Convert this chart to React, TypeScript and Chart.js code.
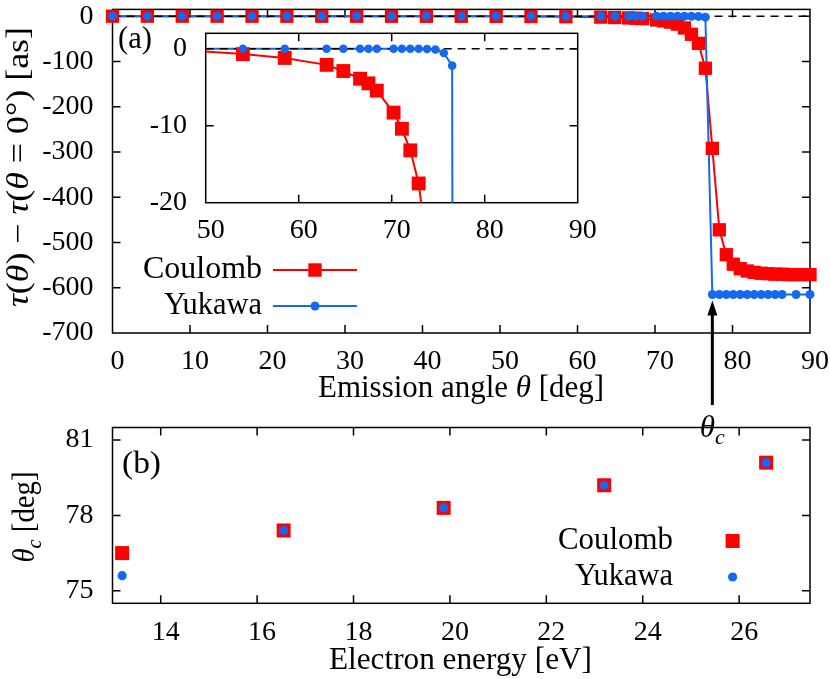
import React, { useEffect, useRef } from 'react';
import { Chart, registerables } from 'chart.js';

Chart.register(...registerables);

const FONT = '"Liberation Serif", "Times New Roman", serif';
const RED = '#ff0000';
const BLUE = '#1469f0';

// ---------- Panel (a): delay vs emission angle ----------
const coulombAngles = [
  0, 4.5, 9, 13.5, 18, 22.5, 27, 31.5, 36, 40.5, 45, 49.5, 54, 58.5, 63,
  64.8, 66.6, 67.5, 68.4, 70.2, 71.1, 72, 72.9, 73.8, 74.7, 75.6, 76.5,
  77.4, 78.3, 79.2, 80.1, 81, 81.9, 82.8, 83.7, 84.6, 85.5, 86.4, 87.3, 88.2, 89.1, 90,
];
const coulombDelay = [
  0, -0.01, -0.02, -0.04, -0.06, -0.08, -0.1, -0.13, -0.16, -0.2, -0.25, -0.32, -0.7, -1.2, -2.1,
  -2.9, -3.9, -4.5, -5.45, -8.3, -10.4, -13.2, -17.5, -26, -40, -60, -115,
  -292, -472, -527, -548, -558, -563, -566, -568, -569, -570, -570, -571, -571, -571, -571,
];
const yukawaAngles = [
  0, 4.5, 9, 13.5, 18, 22.5, 27, 31.5, 36, 40.5, 45, 49.5, 54, 58.5, 63,
  64.8, 66.6, 67.5, 68.4, 70.2, 71.1, 72, 72.9, 73.8, 74.7, 75.6, 76.5,
  77.4, 78.3, 79.2, 80.1, 81, 81.9, 82.8, 83.7, 84.6, 85.5, 86.4, 88.2, 90,
];
const yukawaDelay = [
  0, 0, 0, 0, 0, 0, 0, 0, 0, 0, 0, 0, 0, 0, 0,
  0, 0, 0, 0, 0, 0, 0, 0, -0.03, -0.1, -0.56, -2.2,
  -615, -615, -615, -615, -615, -615, -615, -615, -615, -615, -615, -615, -615,
];
const angleTicks = [0, 10, 20, 30, 40, 50, 60, 70, 80, 90];
const delayTicks = [0, -100, -200, -300, -400, -500, -600, -700];
const insetAngleTicks = [50, 60, 70, 80, 90];
const insetDelayTicks = [0, -10, -20];
const markedThetaC = 77.4;

// ---------- Panel (b): critical angle vs electron energy ----------
const electronEnergy = [13.2, 16.55, 19.87, 23.2, 26.56];
const coulombThetaC = [76.5, 77.4, 78.3, 79.2, 80.1];
const yukawaThetaC = [75.6, 77.4, 78.3, 79.2, 80.1];
const energyTicks = [14, 16, 18, 20, 22, 24, 26];
const thetaCTicks = [75, 78, 81];

type Seg = { t: string; it?: boolean; sub?: boolean };

function drawRich(
  ctx: CanvasRenderingContext2D,
  segs: Seg[],
  x: number,
  y: number,
  size: number,
  align: 'left' | 'center' | 'right',
  rot = 0,
  target?: number
) {
  ctx.save();
  ctx.translate(x, y);
  if (rot) ctx.rotate(rot);
  const f = (s: Seg) => `${s.it ? 'italic ' : ''}${s.sub ? Math.round(size * 0.7) : size}px ${FONT}`;
  const ws = segs.map((s) => {
    ctx.font = f(s);
    return ctx.measureText(s.t).width;
  });
  const total = ws.reduce((a, b) => a + b, 0);
  const sx = target ? target / total : 1;
  ctx.scale(sx, 1);
  let cx = align === 'left' ? 0 : align === 'center' ? -total / 2 : -total;
  ctx.textBaseline = 'middle';
  ctx.textAlign = 'left';
  ctx.fillStyle = '#000';
  segs.forEach((s, i) => {
    ctx.font = f(s);
    ctx.fillText(s.t, cx, s.sub ? size * 0.3 : 0);
    cx += ws[i];
  });
  ctx.restore();
}

function axis(min: number, max: number, ticks: number[], pad: number, offset: number, fit: (s: any) => void) {
  return {
    type: 'linear' as const,
    min,
    max,
    grid: { display: false, drawTicks: false },
    border: { display: false },
    ticks: {
      color: '#000',
      font: { family: FONT, size: 28 },
      padding: pad,
      labelOffset: offset,
      maxRotation: 0,
      minRotation: 0,
      autoSkip: false,
      callback: (v: any) => String(v),
    },
    afterBuildTicks: (s: any) => {
      s.ticks = ticks.map((value) => ({ value }));
    },
    afterFit: (s: any) => {
      fit(s);
      s.paddingLeft = 0;
      s.paddingRight = 0;
      s.paddingTop = 0;
      s.paddingBottom = 0;
    },
  };
}

const framePlugin = {
  id: 'frame',
  beforeDatasetsDraw(chart: any) {
    const { ctx, chartArea: a, scales } = chart;
    const L = 8;
    ctx.save();
    ctx.strokeStyle = '#000';
    ctx.lineWidth = 1.5;
    ctx.beginPath();
    for (const t of scales.x.ticks) {
      const px = scales.x.getPixelForValue(t.value);
      if (px <= a.left + 1 || px >= a.right - 1) continue;
      ctx.moveTo(px, a.bottom);
      ctx.lineTo(px, a.bottom - L);
      ctx.moveTo(px, a.top);
      ctx.lineTo(px, a.top + L);
    }
    for (const t of scales.y.ticks) {
      const py = scales.y.getPixelForValue(t.value);
      if (py <= a.top + 1 || py >= a.bottom - 1) continue;
      ctx.moveTo(a.left, py);
      ctx.lineTo(a.left + L, py);
      ctx.moveTo(a.right, py);
      ctx.lineTo(a.right - L, py);
    }
    ctx.stroke();
    ctx.strokeRect(a.left, a.top, a.right - a.left, a.bottom - a.top);
    ctx.restore();
  },
};

function drawSquare(ctx: CanvasRenderingContext2D, x: number, y: number, side: number) {
  ctx.fillStyle = RED;
  ctx.fillRect(x - side / 2, y - side / 2, side, side);
}
function drawDot(ctx: CanvasRenderingContext2D, x: number, y: number, r: number) {
  ctx.fillStyle = BLUE;
  ctx.beginPath();
  ctx.arc(x, y, r, 0, Math.PI * 2);
  ctx.fill();
}

const mainAnnotations = {
  id: 'mainAnnotations',
  afterDraw(chart: any) {
    const { ctx, scales } = chart;
    ctx.save();
    drawRich(ctx, [{ t: '(a)' }], 118, 40, 31, 'left', 0, 34);
    // legend
    const rows = [270, 306];
    drawRich(ctx, [{ t: 'Coulomb' }], 262, rows[0], 31, 'right', 0, 119);
    drawRich(ctx, [{ t: 'Yukawa' }], 262, rows[1], 31, 'right', 0, 98);
    ctx.lineWidth = 2;
    ctx.strokeStyle = RED;
    ctx.beginPath();
    ctx.moveTo(273, rows[0]);
    ctx.lineTo(357, rows[0]);
    ctx.stroke();
    drawSquare(ctx, 315, rows[0], 13.4);
    ctx.strokeStyle = BLUE;
    ctx.beginPath();
    ctx.moveTo(273, rows[1]);
    ctx.lineTo(357, rows[1]);
    ctx.stroke();
    drawDot(ctx, 315, rows[1], 4.5);
    // arrow to theta_c
    const ax = scales.x.getPixelForValue(markedThetaC);
    const tipY = scales.y.getPixelForValue(-628);
    ctx.strokeStyle = '#000';
    ctx.fillStyle = '#000';
    ctx.lineWidth = 3;
    ctx.beginPath();
    ctx.moveTo(ax, 405);
    ctx.lineTo(ax, tipY + 12);
    ctx.stroke();
    ctx.beginPath();
    ctx.moveTo(ax, tipY);
    ctx.lineTo(ax - 5, tipY + 15);
    ctx.lineTo(ax + 5, tipY + 15);
    ctx.closePath();
    ctx.fill();
    drawRich(ctx, [{ t: 'θ', it: true }, { t: 'c', it: true, sub: true }], ax, 429, 31, 'center');
    // axis titles
    drawRich(ctx, [{ t: 'Emission angle ' }, { t: 'θ', it: true }, { t: ' [deg]' }], 461, 389, 31, 'center', 0, 286);
    drawRich(
      ctx,
      [
        { t: 'τ', it: true },
        { t: '(' },
        { t: 'θ', it: true },
        { t: ') − ' },
        { t: 'τ', it: true },
        { t: '(' },
        { t: 'θ', it: true },
        { t: ' = 0°) [as]' },
      ],
      20,
      167,
      31,
      'center',
      -Math.PI / 2,
      280
    );
    ctx.restore();
  },
};

const bottomAnnotations = {
  id: 'bottomAnnotations',
  afterDraw(chart: any) {
    const { ctx } = chart;
    ctx.save();
    drawRich(ctx, [{ t: '(b)' }], 122, 65, 31, 'left', 0, 39);
    drawRich(ctx, [{ t: 'Coulomb' }], 673, 141, 31, 'right', 0, 115);
    drawRich(ctx, [{ t: 'Yukawa' }], 673, 177, 31, 'right', 0, 98);
    drawSquare(ctx, 732.6, 141, 14);
    drawDot(ctx, 732.6, 177, 4.6);
    drawRich(ctx, [{ t: 'Electron energy [eV]' }], 460.5, 261, 31, 'center', 0, 263);
    drawRich(
      ctx,
      [{ t: 'θ', it: true }, { t: 'c', it: true, sub: true }, { t: ' [deg]' }],
      26,
      117,
      31,
      'center',
      -Math.PI / 2,
      91
    );
    ctx.restore();
  },
};

function delaySets(rSquare: any, rDot: any, zero: { x: number; y: number }[]) {
  const cPts = coulombAngles.map((x, i) => ({ x, y: coulombDelay[i] }));
  const yPts = yukawaAngles.map((x, i) => ({ x, y: yukawaDelay[i] }));
  return [
    { data: yPts, showLine: false, pointStyle: 'circle', pointRadius: rDot, pointBackgroundColor: BLUE, pointBorderWidth: 0, clip: false, order: 1 },
    { data: cPts, showLine: false, pointStyle: 'rect', pointRadius: rSquare, pointBackgroundColor: RED, pointBorderWidth: 0, clip: false, order: 2 },
    { data: zero, borderColor: '#000', borderWidth: 1.5, borderDash: [8, 6], pointRadius: 0, order: 3 },
    { data: yPts, borderColor: BLUE, borderWidth: 2, pointRadius: 0, order: 4 },
    { data: cPts, borderColor: RED, borderWidth: 2, pointRadius: 0, order: 5 },
  ];
}

function makeMain(canvas: HTMLCanvasElement) {
  const zero = [
    { x: angleTicks[0], y: 0 },
    { x: angleTicks[angleTicks.length - 1], y: 0 },
  ];
  return new Chart(canvas, {
    type: 'line',
    data: { datasets: delaySets(9.4, 4.5, zero) as any },
    options: {
      responsive: false,
      animation: false,
      maintainAspectRatio: false,
      events: [],
      layout: { padding: { left: 0, right: 20, top: 6, bottom: 50 } },
      plugins: { legend: { display: false }, tooltip: { enabled: false }, title: { display: false } },
      scales: {
        x: axis(0, 90, angleTicks, 12, 5, (s) => { s.height = 67; }),
        y: axis(-700, 15, delayTicks, 19, 0, (s) => { s.width = 112.5; }),
      } as any,
    },
    plugins: [framePlugin, mainAnnotations],
  });
}

function makeInset(canvas: HTMLCanvasElement) {
  const zero = [
    { x: insetAngleTicks[0], y: 0 },
    { x: insetAngleTicks[insetAngleTicks.length - 1], y: 0 },
  ];
  const vis = (r: number) => (c: any) => (c.raw && c.raw.x >= 50 && c.raw.y >= -20 ? r : 0);
  return new Chart(canvas, {
    type: 'line',
    data: { datasets: delaySets(vis(9.8), vis(4.3), zero) as any },
    options: {
      responsive: false,
      animation: false,
      maintainAspectRatio: false,
      events: [],
      layout: { padding: { left: 0, right: 32.3, top: 13.3, bottom: 0 } },
      plugins: { legend: { display: false }, tooltip: { enabled: false }, title: { display: false } },
      scales: {
        x: axis(50, 90, insetAngleTicks, 11.5, 5, (s) => { s.height = 57.3; }),
        y: axis(-20, 2, insetDelayTicks, 18.7, 0, (s) => { s.width = 65.7; }),
      } as any,
    },
    plugins: [framePlugin],
  });
}

function makeBottom(canvas: HTMLCanvasElement) {
  const cPts = electronEnergy.map((x, i) => ({ x, y: coulombThetaC[i] }));
  const yPts = electronEnergy.map((x, i) => ({ x, y: yukawaThetaC[i] }));
  return new Chart(canvas, {
    type: 'scatter',
    data: {
      datasets: [
        { data: yPts, pointStyle: 'circle', pointRadius: 4.6, pointBackgroundColor: BLUE, pointBorderWidth: 0, clip: false, order: 1 },
        { data: cPts, pointStyle: 'rect', pointRadius: 9.9, pointBackgroundColor: RED, pointBorderWidth: 0, clip: false, order: 2 },
      ] as any,
    },
    options: {
      responsive: false,
      animation: false,
      maintainAspectRatio: false,
      events: [],
      layout: { padding: { left: 0, right: 20, top: 27.5, bottom: 0 } },
      plugins: { legend: { display: false }, tooltip: { enabled: false }, title: { display: false } },
      scales: {
        x: axis(13, 27.47, energyTicks, 13, 5, (s) => { s.height = 75.7; }),
        y: axis(74.5, 81.5, thetaCTicks, 19, 0, (s) => { s.width = 112.5; }),
      } as any,
    },
    plugins: [framePlugin, bottomAnnotations],
  });
}

export default function App() {
  const mainRef = useRef<HTMLCanvasElement>(null);
  const insetRef = useRef<HTMLCanvasElement>(null);
  const bottomRef = useRef<HTMLCanvasElement>(null);

  useEffect(() => {
    const charts = [
      makeBottom(bottomRef.current!),
      makeMain(mainRef.current!),
      makeInset(insetRef.current!),
    ];
    return () => charts.forEach((c) => c.destroy());
  }, []);

  return (
    <div style={{ position: 'absolute', left: 0, top: 0, width: 830, height: 679, background: '#fff', overflow: 'hidden' }}>
      <canvas ref={bottomRef} width={830} height={279} style={{ position: 'absolute', left: 0, top: 400 }} />
      <canvas ref={mainRef} width={830} height={450} style={{ position: 'absolute', left: 0, top: 0 }} />
      <canvas ref={insetRef} width={470} height={240} style={{ position: 'absolute', left: 140, top: 20 }} />
    </div>
  );
}
